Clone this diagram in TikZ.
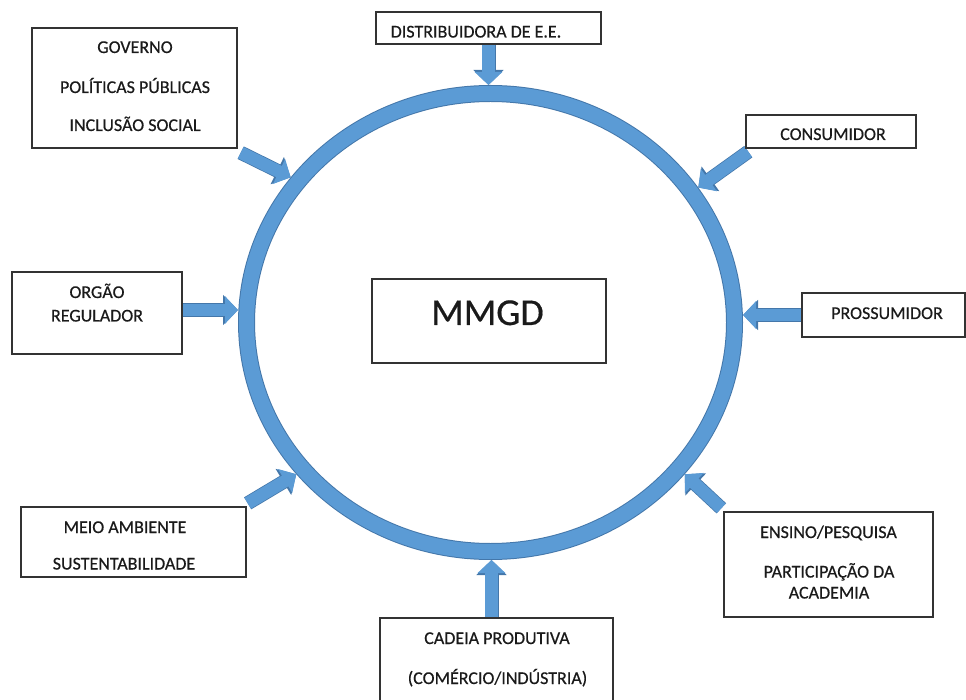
\documentclass[tikz,border=0pt]{standalone}
\usepackage{fontspec}
\setmainfont{Carlito}[FakeBold=0.5]
\usetikzlibrary{shapes.geometric,arrows.meta,calc}
\definecolor{ringblue}{HTML}{5B9BD5}
\definecolor{ringdark}{HTML}{4477AA}
\definecolor{boxline}{HTML}{333333}
\definecolor{txtc}{HTML}{1A1A1A}
\pgfdeclarelayer{background}
\pgfsetlayers{background,main}
\begin{document}
\begin{tikzpicture}[x=1pt,y=-1pt,
  box/.style={draw=boxline, line width=1.4pt, fill=white, inner sep=0pt},
  lbl/.style={anchor=base, text=txtc, font=\fontsize{18}{22}\selectfont, inner sep=0pt},
  biglbl/.style={anchor=base, text=txtc, font=\fontsize{38}{44}\selectfont, inner sep=0pt},
  flow/.style={line width=12.5pt, draw=ringblue, -{Triangle[length=13pt,width=27pt]},
    preaction={draw=ringdark, line width=14pt, -{Triangle[length=15pt,width=29.5pt]}}}
]
\useasboundingbox (0,0) rectangle (966,700);

% central ring
\node[ellipse, draw=ringdark, line width=1pt, double=ringblue, double distance=15pt,
      minimum width=488pt, minimum height=458pt, inner sep=0pt, outer sep=8.5pt] (ring) at (490.5,322.5) {};

% boxes
\node[box, minimum width=205pt, minimum height=120pt] (gov) at (134.5,88) {};
\node[box, minimum width=225pt, minimum height=32pt] (dist) at (488.5,28) {};
\node[box, minimum width=170pt, minimum height=33pt] (cons) at (831,131.5) {};
\node[box, minimum width=163pt, minimum height=44pt] (pros) at (883.5,315) {};
\node[box, minimum width=170pt, minimum height=82pt] (reg) at (97,313) {};
\node[box, minimum width=225pt, minimum height=70pt] (meio) at (133.5,542) {};
\node[box, minimum width=209pt, minimum height=105pt] (ens) at (828.5,564.5) {};
\node[box, minimum width=233pt, minimum height=87pt] (cad) at (496.5,661.5) {};
\node[box, minimum width=234pt, minimum height=84pt] (mmgdbox) at (489,321) {};

% texts
\node[biglbl] (mmgd) at (487.5,325) {MMGD};
\node[lbl] (gov1) at (135,53) {GOVERNO};
\node[lbl] (gov2) at (135,93) {POLÍTICAS PÚBLICAS};
\node[lbl] (gov3) at (135,131) {INCLUSÃO SOCIAL};
\node[lbl] (dist1) at (476,37.5) {DISTRIBUIDORA DE E.E.};
\node[lbl] (cons1) at (833,140) {CONSUMIDOR};
\node[lbl] (pros1) at (887,319) {PROSSUMIDOR};
\node[lbl] (reg1) at (97,298) {ORGÃO};
\node[lbl] (reg2) at (97,321.5) {REGULADOR};
\node[lbl] (meio1) at (125,533) {MEIO AMBIENTE};
\node[lbl] (meio2) at (124,569.5) {SUSTENTABILIDADE};
\node[lbl] (ens1) at (828.5,538) {ENSINO/PESQUISA};
\node[lbl] (ens2) at (829,577.5) {PARTICIPAÇÃO DA};
\node[lbl] (ens3) at (829,598.5) {ACADEMIA};
\node[lbl] (cad1) at (497,644) {CADEIA PRODUTIVA};
\node[lbl] (cad2) at (497.5,684) {(COMÉRCIO/INDÚSTRIA)};

% connector tails
\coordinate (govtail) at ($(gov.south east)+(3,4)$);
\coordinate (constail) at ($(cons.south west)+(3,3)$);
\coordinate (regtail) at ($(reg.east)+(0,-3)$);
\coordinate (meiotail) at ($(meio.north east)+(1,-3)$);
\coordinate (enstail) at ($(ens.north west)+(-2,-3)$);
\coordinate (cadtail) at ($(cad.north)+(-5,0)$);

\begin{pgfonlayer}{background}
\draw[flow] (dist.south) -- (dist.south |- ring.north);
\draw[flow] (govtail) -- (ring.144);
\draw[flow] (constail) -- (ring.33);
\draw[flow] (pros.west) -- (pros.west -| ring.east);
\draw[flow] (regtail) -- (regtail -| ring.west);
\draw[flow] (meiotail) -- (ring.218);
\draw[flow] (enstail) -- (ring.-38);
\draw[flow] (cadtail) -- (cadtail |- ring.south);
\end{pgfonlayer}
\end{tikzpicture}
\end{document}
